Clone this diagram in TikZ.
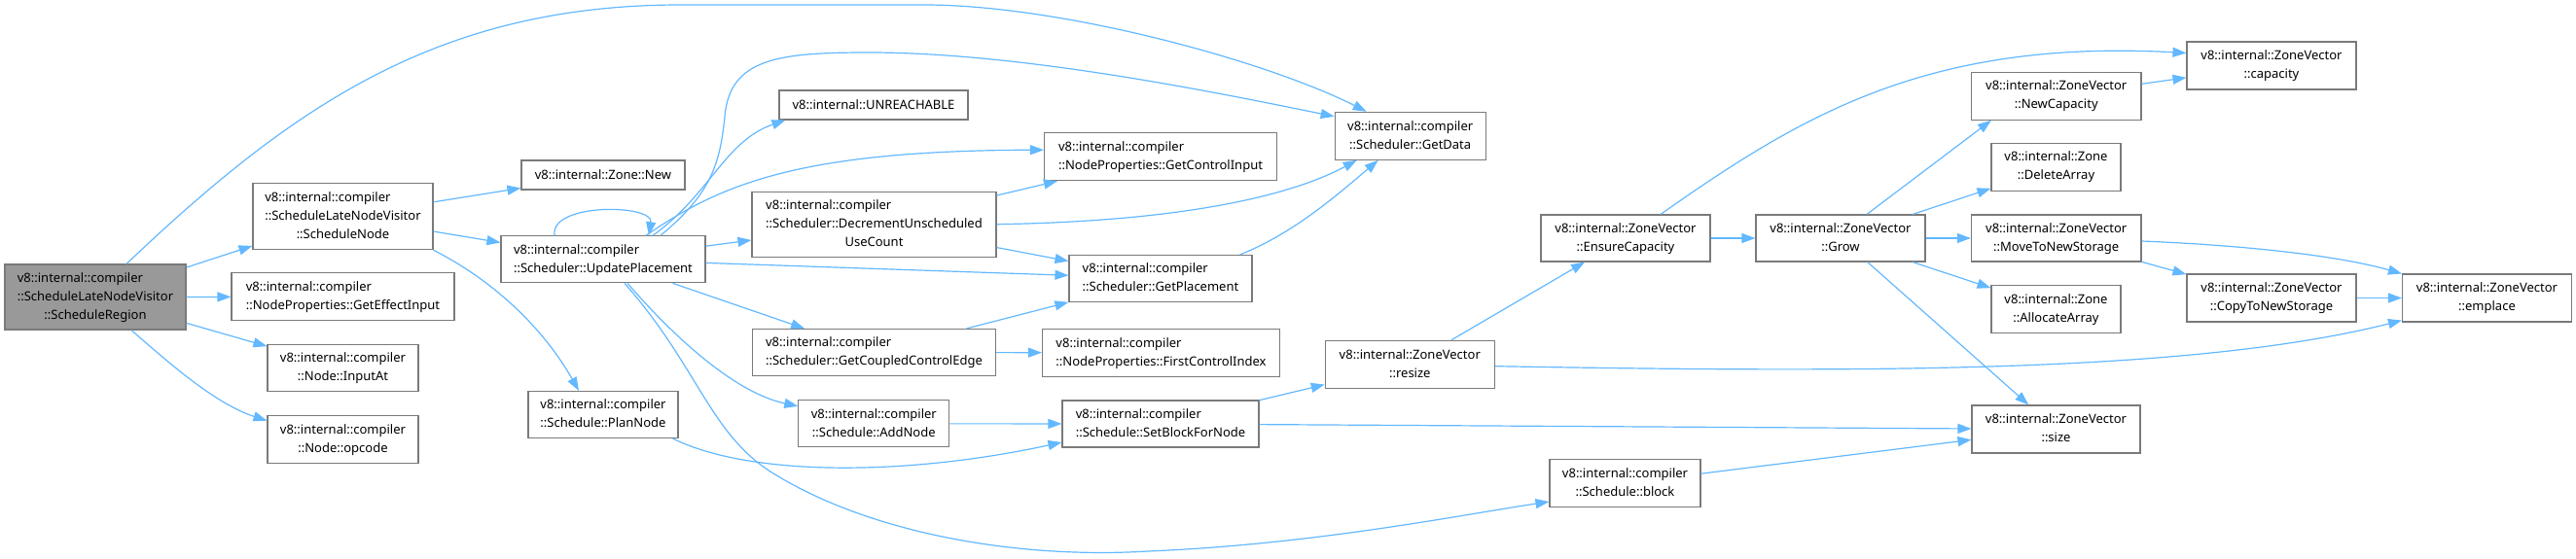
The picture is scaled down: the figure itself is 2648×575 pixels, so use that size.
\documentclass[tikz,border=0pt]{standalone}
\usepackage{fontspec}
\setmainfont{Noto Sans}
\usetikzlibrary{arrows.meta}
\definecolor{edgeblue}{HTML}{63B8FF}
\definecolor{boxline}{HTML}{7A7A7A}
\definecolor{rootfill}{HTML}{999999}
\newcommand{\fnlab}[2]{\begin{tabular}{@{}l@{}}#1\\\multicolumn{1}{@{}c@{}}{#2}\end{tabular}}
\tikzset{
  fn/.style={draw=boxline,fill=white,line width=1.1pt,inner sep=0pt,font=\fontsize{13}{19}\selectfont},
  fnroot/.style={fn,fill=rootfill},
  call/.style={draw=edgeblue,line width=1.2pt,-{Triangle[length=14pt,width=10pt]}}
}
\begin{document}
\begin{tikzpicture}[x=1pt,y=-1pt]
    \useasboundingbox (0,0) rectangle (2648,575);
    \node[fnroot,minimum width=186pt,minimum height=67pt] (region) at (98,305.5) {\fnlab{v8::internal::compiler\\::ScheduleLateNodeVisitor}{::ScheduleRegion}};
    \node[fn,minimum width=185pt,minimum height=68pt] (snode) at (352.5,222.7) {\fnlab{v8::internal::compiler\\::ScheduleLateNodeVisitor}{::ScheduleNode}};
    \node[fn,minimum width=229pt,minimum height=49pt] (gei) at (352.5,305.3) {\fnlab{v8::internal::compiler}{::NodeProperties::GetEffectInput}};
    \node[fn,minimum width=155pt,minimum height=48pt] (inat) at (352.5,378.5) {\fnlab{v8::internal::compiler}{::Node::InputAt}};
    \node[fn,minimum width=155pt,minimum height=49pt] (opc) at (352.5,451.7) {\fnlab{v8::internal::compiler}{::Node::opcode}};
    \node[fn,minimum width=168pt,minimum height=30pt] (znew) at (620,180) {v8::internal::Zone::New};
    \node[fn,minimum width=210pt,minimum height=48pt] (upd) at (620,266.8) {\fnlab{v8::internal::compiler}{::Scheduler::UpdatePlacement}};
    \node[fn,minimum width=154pt,minimum height=48pt] (plan) at (620,426.5) {\fnlab{v8::internal::compiler}{::Schedule::PlanNode}};
    \node[fn,minimum width=194pt,minimum height=30pt] (unr) at (898,108) {v8::internal::UNREACHABLE};
    \node[fn,minimum width=251pt,minimum height=67pt] (dec) at (898.5,230.7) {\fnlab{v8::internal::compiler\\::Scheduler::DecrementUnscheduled}{UseCount}};
    \node[fn,minimum width=250pt,minimum height=48pt] (gcce) at (898.5,362.5) {\fnlab{v8::internal::compiler}{::Scheduler::GetCoupledControlEdge}};
    \node[fn,minimum width=155pt,minimum height=48pt] (addn) at (898.3,435.8) {\fnlab{v8::internal::compiler}{::Schedule::AddNode}};
    \node[fn,minimum width=239pt,minimum height=49pt] (gci) at (1193,161.2) {\fnlab{v8::internal::compiler}{::NodeProperties::GetControlInput}};
    \node[fn,minimum width=188pt,minimum height=48pt] (gp) at (1193,286.5) {\fnlab{v8::internal::compiler}{::Scheduler::GetPlacement}};
    \node[fn,minimum width=244pt,minimum height=49pt] (fci) at (1193.5,362.8) {\fnlab{v8::internal::compiler}{::NodeProperties::FirstControlIndex}};
    \node[fn,minimum width=202pt,minimum height=48pt] (sbfn) at (1193,436) {\fnlab{v8::internal::compiler}{::Schedule::SetBlockForNode}};
    \node[fn,minimum width=155pt,minimum height=49pt] (gd) at (1449.7,139.8) {\fnlab{v8::internal::compiler}{::Scheduler::GetData}};
    \node[fn,minimum width=174pt,minimum height=49pt] (resize) at (1449.3,374.7) {\fnlab{v8::internal::ZoneVector}{::resize}};
    \node[fn,minimum width=155pt,minimum height=49pt] (blk) at (1670.5,497) {\fnlab{v8::internal::compiler}{::Schedule::block}};
    \node[fn,minimum width=174pt,minimum height=48pt] (ens) at (1671,245) {\fnlab{v8::internal::ZoneVector}{::EnsureCapacity}};
    \node[fn,minimum width=174pt,minimum height=48pt] (grow) at (1892,245) {\fnlab{v8::internal::ZoneVector}{::Grow}};
    \node[fn,minimum width=174.5pt,minimum height=49pt] (newcap) at (2113.7,98.7) {\fnlab{v8::internal::ZoneVector}{::NewCapacity}};
    \node[fn,minimum width=133pt,minimum height=49pt] (delarr) at (2113.5,171.7) {\fnlab{v8::internal::Zone}{::DeleteArray}};
    \node[fn,minimum width=174.5pt,minimum height=48pt] (move) at (2113.7,245) {\fnlab{v8::internal::ZoneVector}{::MoveToNewStorage}};
    \node[fn,minimum width=133pt,minimum height=49pt] (alloc) at (2113.5,318.3) {\fnlab{v8::internal::Zone}{::AllocateArray}};
    \node[fn,minimum width=173pt,minimum height=49pt] (size) at (2113.5,441.5) {\fnlab{v8::internal::ZoneVector}{::size}};
    \node[fn,minimum width=174pt,minimum height=49pt] (cap) at (2335,67.5) {\fnlab{v8::internal::ZoneVector}{::capacity}};
    \node[fn,minimum width=174pt,minimum height=49pt] (copy) at (2335,306.5) {\fnlab{v8::internal::ZoneVector}{::CopyToNewStorage}};
    \node[fn,minimum width=174pt,minimum height=49pt] (emp) at (2556.5,306.5) {\fnlab{v8::internal::ZoneVector}{::emplace}};
    \foreach \a/\b in {region/snode,region/gei,region/inat,snode/znew,snode/upd,upd/dec,upd/gp,upd/gcce,
        dec/gci,dec/gp,gcce/gp,gcce/fci,addn/sbfn,sbfn/resize,sbfn/size,blk/size,resize/ens,ens/grow,
        grow/delarr,grow/move,grow/alloc,grow/size,newcap/cap,move/copy,copy/emp} {
        \draw[call] (\a) -- (\b);
    }
    \draw[call] ([xshift=32pt]region.north) .. controls (300,110) and (450,5) .. (700,5) -- (950,5)
        .. controls (1090,5) and (1300,62) .. ([xshift=-45pt]gd.north);
    \draw[call] ([xshift=37pt]region.south) .. controls (170,370) and (220,415) .. ([yshift=19pt]opc.west);
    \draw[call] (snode.south east) .. controls (510,290) and (560,340) .. ([xshift=-25pt]plan.north);
    \draw[call] ([xshift=-50pt]upd.north) .. controls (565,208) and (672,210) .. ([xshift=47pt]upd.north);
    \draw[call] ([xshift=51pt]upd.north) .. controls (730,200) and (745,145) .. ([xshift=7pt]unr.south west);
    \draw[call] ([xshift=59pt]upd.north) .. controls (730,200) and (740,170) .. (745,120)
        .. controls (750,60) and (800,54) .. (893,54) .. controls (1050,54) and (1250,95) .. ([yshift=20pt]gd.west);
    \draw[call] ([xshift=44pt]upd.north) .. controls (740,190) and (820,155) .. ([yshift=7pt]gci.west);
    \draw[call] ([xshift=25pt]upd.south) .. controls (700,355) and (760,405) .. ([yshift=18pt]addn.west);
    \draw[call] ([xshift=22pt]upd.south) .. controls (720,380) and (730,450) .. (800,490)
        .. controls (900,550) and (1050,575) .. (1180,567) .. controls (1350,560) and (1500,530) .. ([yshift=-19pt]blk.west);
    \draw[call] (dec.east) .. controls (1200,228) and (1320,205) .. ([xshift=-55pt]gd.south);
    \draw[call] ([xshift=-13pt]gp.north east) .. controls (1330,240) and (1375,200) .. ([xshift=-33pt]gd.south);
    \draw[call] ([xshift=-6pt]plan.south east) .. controls (770,490) and (930,490) .. ([yshift=-19pt]sbfn.west);
    \draw[call] ([yshift=-2pt]resize.east) .. controls (1900,383) and (2250,385) .. ([yshift=2pt]emp.south west);
    \draw[call] ([xshift=36pt]ens.north) .. controls (1850,120) and (1980,40) .. ([yshift=13pt]cap.west);
    \draw[call] ([xshift=27pt]grow.north) -- ([xshift=21pt]newcap.south west);
    \draw[call] ([yshift=-3pt]move.east) .. controls (2300,252) and (2400,262) .. (emp.north west);
\end{tikzpicture}
\end{document}
